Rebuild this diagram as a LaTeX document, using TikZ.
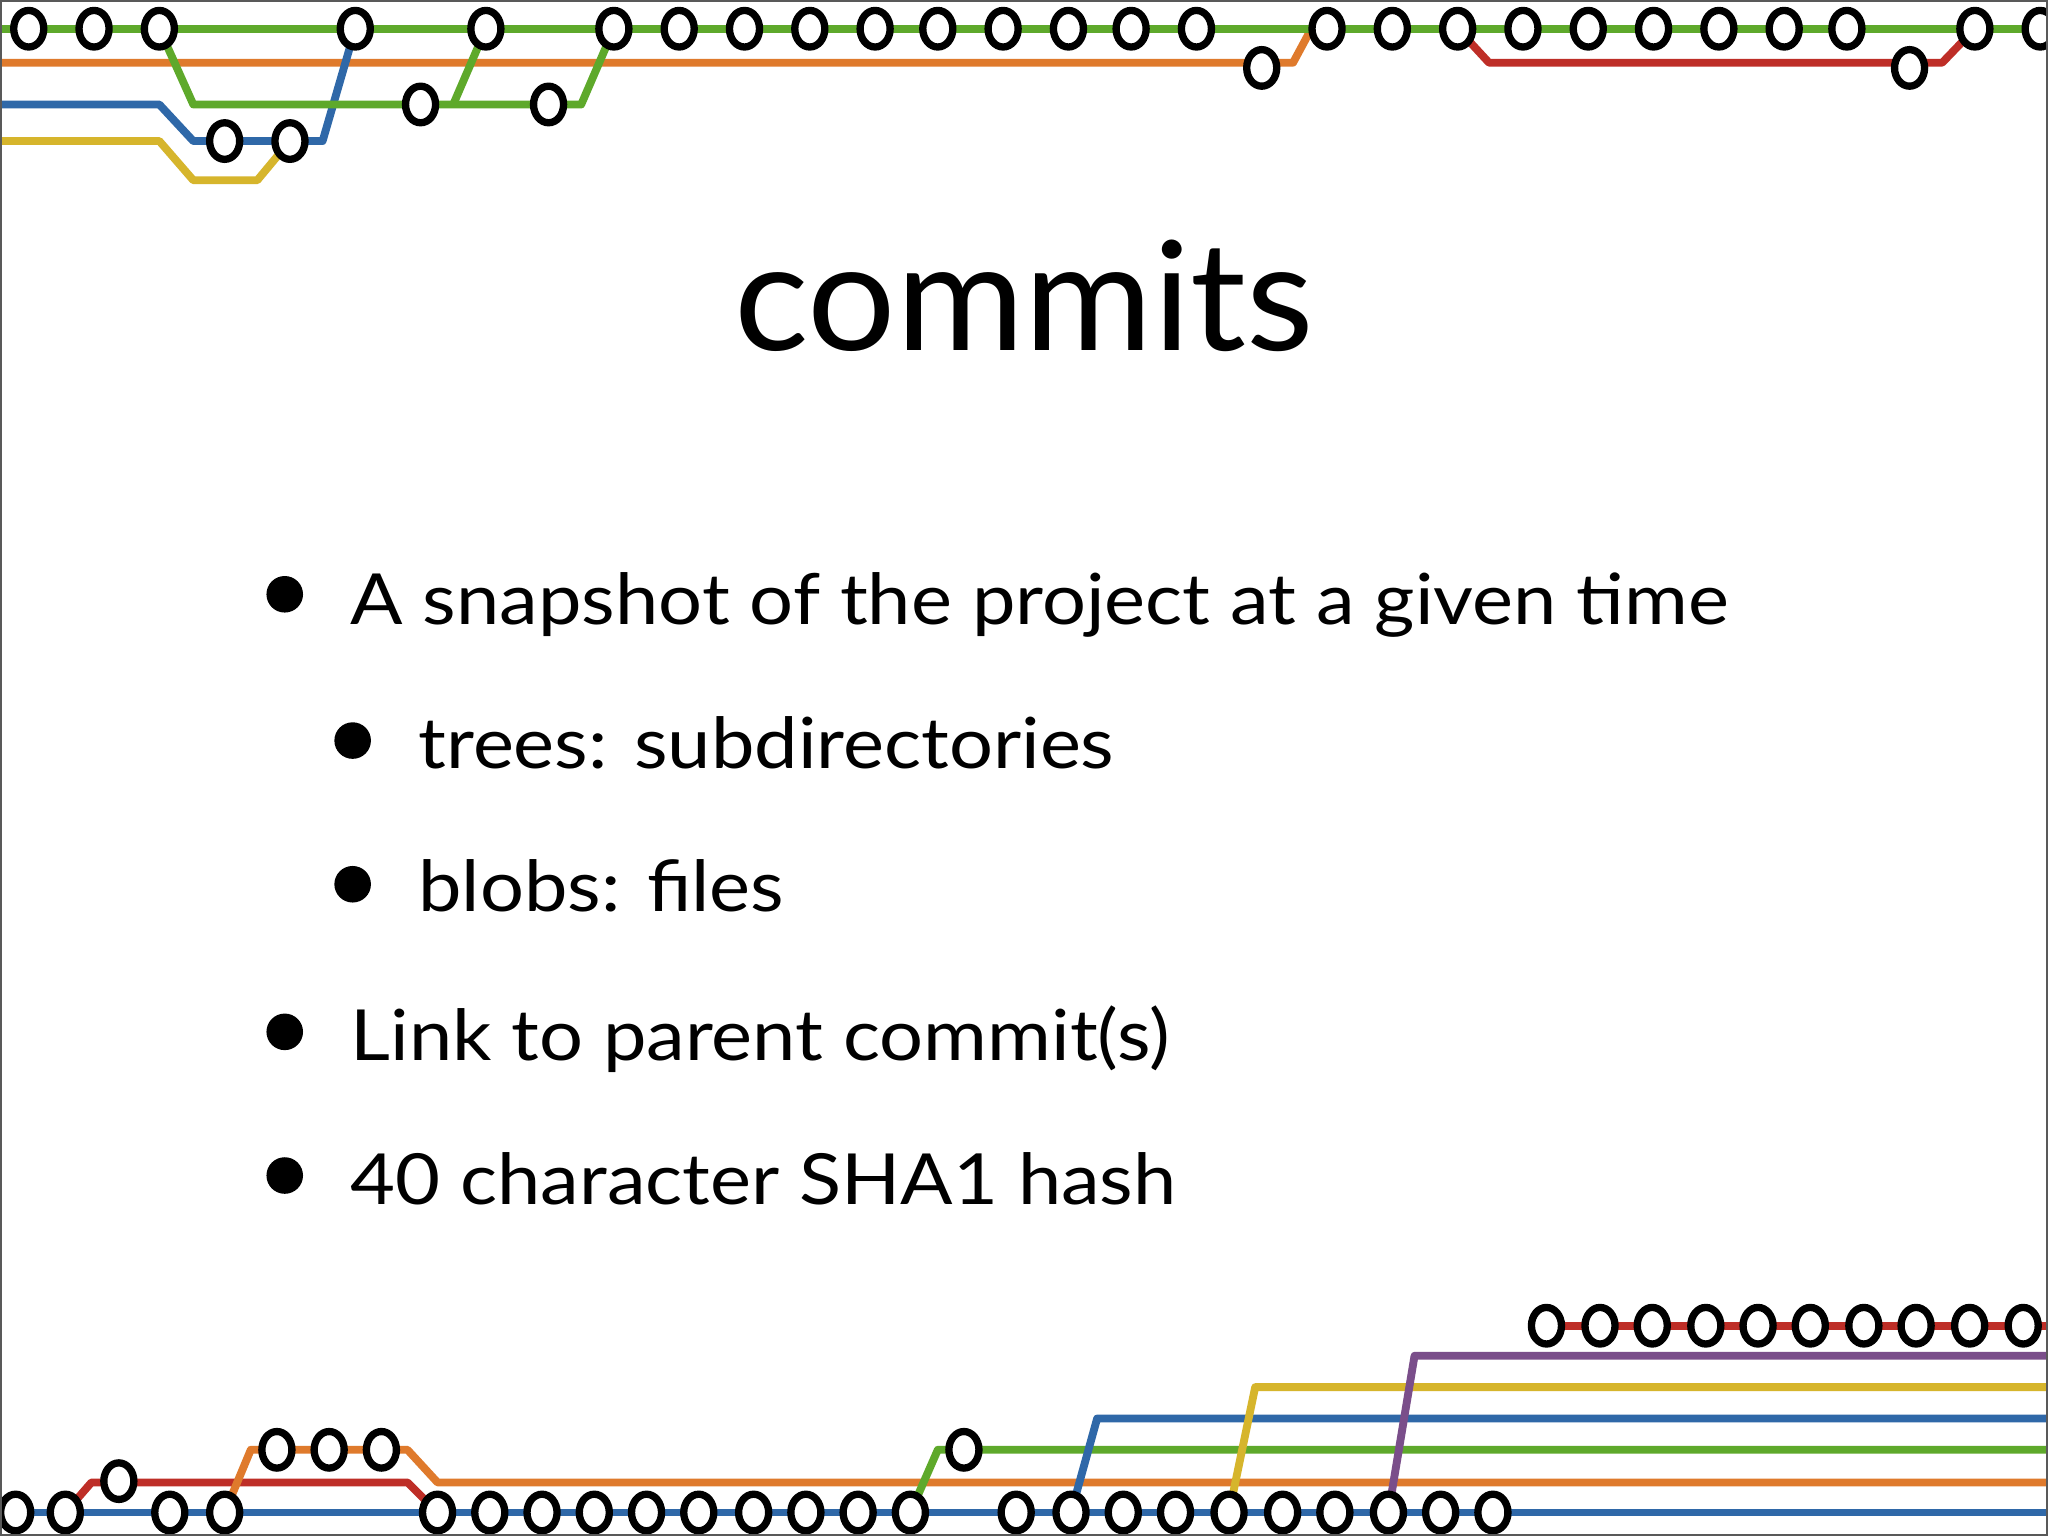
\documentclass[tikz,border=0pt]{standalone}
\usepackage{fontspec}
\setmainfont{Lato}
\definecolor{gG}{HTML}{5EA92B}
\definecolor{gO}{HTML}{DF7A2C}
\definecolor{gB}{HTML}{2F68A8}
\definecolor{gY}{HTML}{D6B52C}
\definecolor{gR}{HTML}{BE2E27}
\definecolor{gP}{HTML}{7A4E8A}
\tikzset{
  trk/.style={line width=3pt,line join=round},
  cmt/.style={ellipse,draw=black,fill=white,line width=2.8pt,minimum width=11.5pt,minimum height=14pt,inner sep=0pt},
  txt/.style={anchor=base west,inner sep=0pt,font=\fontsize{27}{30}\selectfont},
  bul/.style={circle,fill=black,inner sep=0pt,minimum size=14pt}
}
\usetikzlibrary{shapes.geometric}
\newcommand{\wid}[1]{\scalebox{1.1}[1]{#1}}
\begin{document}
\begin{tikzpicture}[x=0.5pt,y=-0.5pt]
\useasboundingbox (0,0) rectangle (1568,1176);
\fill[white] (0,0) rectangle (1568,1176);
% ---------- top tracks
\draw[trk,gO] (0,48) -- (990,48) -- (1004,22);
\draw[trk,gR] (1116,22) -- (1140,48) -- (1487,48) -- (1512,22);
\draw[trk,gY] (0,108) -- (122,108) -- (148,138) -- (197,138) -- (222,108);
\draw[trk,gB] (0,80) -- (122,80) -- (148,108) -- (247,108) -- (272,22);
\draw[trk,gG] (0,22) -- (1568,22);
\draw[trk,gG] (122,22) -- (148,80) -- (445,80) -- (470,22);
\draw[trk,gG] (347,80) -- (372,22);
\foreach \x [count=\i] in {22,72,122,272,372,470,520,570,620,670,718,768,818,866,916,1016,1066,1116,1166,1216,1266,1316,1366,1414,1512,1562}
  \node[cmt] (t\i) at (\x,22) {};
\node[cmt] (tg1) at (322,80) {};
\node[cmt] (tg2) at (420,80) {};
\node[cmt] (tb1) at (172,108) {};
\node[cmt] (tb2) at (222,108) {};
\node[cmt] (to1) at (966,52) {};
\node[cmt] (tr1) at (1462,52) {};
% ---------- bottom tracks
\draw[trk,gB] (0,1158) -- (1568,1158);
\draw[trk,gR] (50,1158) -- (70,1135) -- (312,1135) -- (335,1158);
\draw[trk,gO] (172,1158) -- (192,1110) -- (312,1110) -- (335,1135) -- (1568,1135);
\draw[trk,gG] (697,1158) -- (718,1110) -- (1568,1110);
\draw[trk,gB] (820,1158) -- (840,1086) -- (1568,1086);
\draw[trk,gY] (941,1158) -- (961,1062) -- (1568,1062);
\draw[trk,gP] (1063,1158) -- (1083,1038) -- (1568,1038);
\draw[trk,gR] (1184,1015) -- (1568,1015);
\foreach \x [count=\i] in {12,50,130,172,335,375,415,455,495,535,577,617,657,697,778,820,860,900,941,982,1022,1063,1103,1143}
  \node[cmt] (b\i) at (\x,1158) {};
\node[cmt] (br1) at (91,1134) {};
\foreach \x [count=\i] in {212,252,292} \node[cmt] (bo\i) at (\x,1110) {};
\node[cmt] (bg1) at (738,1110) {};
\foreach \x [count=\i] in {1184,1225,1265,1306,1346,1386,1427,1467,1508,1549}
  \node[cmt] (bt\i) at (\x,1015) {};
% ---------- frame
\draw[gray!70!black,line width=1pt] (0.5,0.5) rectangle (1567.5,1175.5);
% ---------- text
\node[anchor=base,inner sep=0pt,font=\fontsize{58}{60}\selectfont] (title) at (784,268) {\scalebox{1.03}[1]{commits}};
\node[bul] (k1) at (218,455) {};
\node[txt] (l1) at (268,478) {\wid{A snapshot of the project at a given time}};
\node[bul] (k2) at (270,567) {};
\node[txt] (l2) at (320,588) {\wid{trees: subdirectories}};
\node[bul] (k3) at (270,677) {};
\node[txt] (l3) at (320,698) {\wid{blobs: files}};
\node[bul] (k4) at (218,790) {};
\node[txt] (l4) at (268,812) {\wid{Link to parent commit(s)}};
\node[bul] (k5) at (218,900) {};
\node[txt] (l5) at (268,922) {\wid{40 character SHA1 hash}};
\end{tikzpicture}
\end{document}
